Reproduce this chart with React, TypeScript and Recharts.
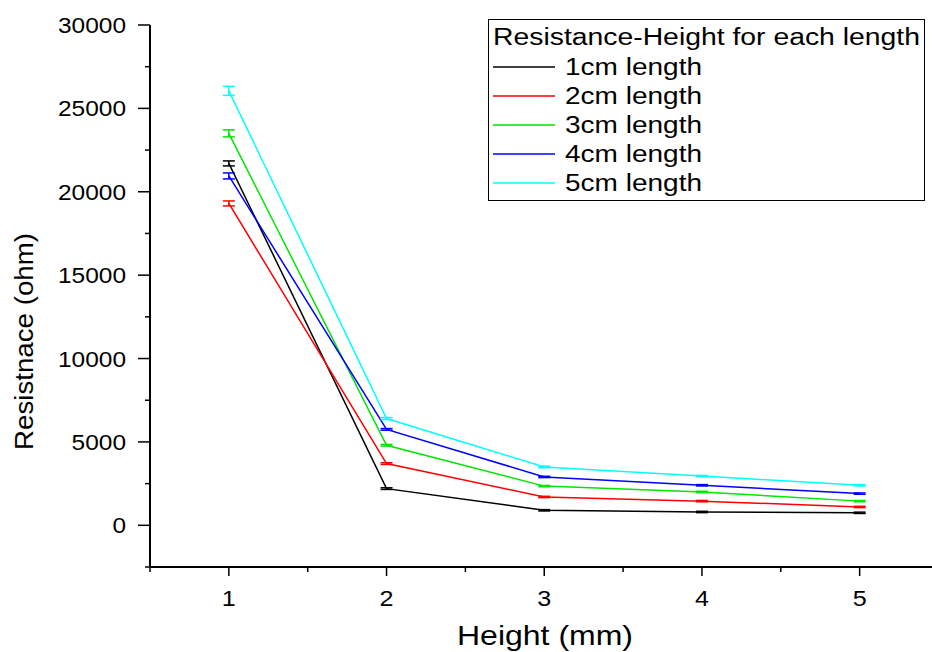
import React from 'react';
import { LineChart, Line, XAxis, YAxis, ErrorBar, Legend, Label } from 'recharts';

// Height (mm) on the x axis
const heights = [1, 2, 3, 4, 5];

// resistance (ohm) per length
const len1 = [21700, 2200, 900, 800, 750];
const len2 = [19300, 3700, 1700, 1450, 1100];
const len3 = [23500, 4800, 2350, 2000, 1450];
const len4 = [20950, 5750, 2900, 2400, 1900];
const len5 = [26050, 6400, 3500, 2950, 2400];

// error bar half sizes
const err1 = [150, 50, 40, 40, 40];
const err2 = [150, 50, 40, 40, 40];
const err3 = [210, 50, 40, 40, 40];
const err4 = [180, 50, 40, 40, 40];
const err5 = [270, 60, 50, 40, 40];

const xTicks = [0.5, 1, 1.5, 2, 2.5, 3, 3.5, 4, 4.5, 5, 5.5];
const yTicks = [-2500, 0, 2500, 5000, 7500, 10000, 12500, 15000, 17500, 20000, 22500, 25000, 27500, 30000];

const series = [
  { key: 'l1', err: 'e1', name: '1cm length', color: '#000000' },
  { key: 'l2', err: 'e2', name: '2cm length', color: '#ff0000' },
  { key: 'l3', err: 'e3', name: '3cm length', color: '#00e600' },
  { key: 'l4', err: 'e4', name: '4cm length', color: '#0000ff' },
  { key: 'l5', err: 'e5', name: '5cm length', color: '#00ffff' },
];

const data = heights.map((h, i) => ({
  h,
  l1: len1[i], l2: len2[i], l3: len3[i], l4: len4[i], l5: len5[i],
  e1: err1[i], e2: err2[i], e3: err3[i], e4: err4[i], e5: err5[i],
}));

const FONT = '"Liberation Sans", Arial, sans-serif';

const XTick = (props: any) => {
  const { x, y, payload } = props;
  const major = Number.isInteger(payload.value);
  return (
    <g>
      <line x1={x} x2={x} y1={y} y2={y + (major ? 9 : 5)} stroke="#000" strokeWidth={1.5} />
      {major && (
        <text x={x} y={y + 39} textAnchor="middle" fontSize={22} fontFamily={FONT} fill="#000"
          textLength={14} lengthAdjust="spacingAndGlyphs">
          {payload.value}
        </text>
      )}
    </g>
  );
};

const YTick = (props: any) => {
  const { x, y, payload } = props;
  const v = payload.value;
  const major = v % 5000 === 0;
  const label = String(v);
  return (
    <g>
      <line x1={x - (major ? 12 : 5)} x2={x} y1={y} y2={y} stroke="#000" strokeWidth={1.5} />
      {major && v >= 0 && (
        <text x={x - 24} y={y + 8} textAnchor="end" fontSize={22} fontFamily={FONT} fill="#000"
          textLength={label.length * 13.6} lengthAdjust="spacingAndGlyphs">
          {label}
        </text>
      )}
    </g>
  );
};

const LegendBox = (props: any) => {
  const items = props.payload || [];
  return (
    <svg width={437} height={182} style={{ display: 'block' }}>
      <rect x={0.5} y={0.5} width={436} height={181} fill="#fff" stroke="#000" strokeWidth={1} />
      <text x={5} y={26} fontSize={23} fontFamily={FONT} fill="#000" textLength={427} lengthAdjust="spacingAndGlyphs">
        Resistance-Height for each length
      </text>
      {items.map((it: any, i: number) => {
        const cy = 48 + i * 29;
        return (
          <g key={it.value}>
            <line x1={5} x2={67} y1={cy} y2={cy} stroke={it.color} strokeWidth={1.5} />
            <text x={77} y={cy + 8} fontSize={23} fontFamily={FONT} fill="#000" textLength={137} lengthAdjust="spacingAndGlyphs">
              {it.value}
            </text>
          </g>
        );
      })}
    </svg>
  );
};

export default function App() {
  return (
    <div style={{ position: 'fixed', left: 0, top: 0, width: 932, height: 652, overflow: 'hidden', background: '#fff' }}>
      <LineChart width={960} height={652} data={data} margin={{ top: 25, left: 90, right: 21.5, bottom: 55 }}>
        <XAxis
          dataKey="h"
          type="number"
          domain={[0.5, 5.5]}
          ticks={xTicks}
          interval={0}
          height={30}
          tickSize={0}
          tickMargin={0}
          tickLine={false}
          tick={<XTick />}
          axisLine={{ stroke: '#000', strokeWidth: 2 }}
        >
          <Label
            content={() => (
              <text x={457} y={645} fontSize={28} fontFamily={FONT} fill="#000" textLength={176} lengthAdjust="spacingAndGlyphs">
                Height (mm)
              </text>
            )}
          />
        </XAxis>
        <YAxis
          type="number"
          domain={[-2500, 30000]}
          ticks={yTicks}
          interval={0}
          width={60}
          tickSize={0}
          tickMargin={0}
          tickLine={false}
          tick={<YTick />}
          axisLine={{ stroke: '#000', strokeWidth: 2 }}
        >
          <Label
            content={() => (
              <text transform="translate(33,341.5) scale(1.2,1) rotate(-90)" x={0} y={0} textAnchor="middle"
                fontSize={22} fontFamily={FONT} fill="#000" textLength={217} lengthAdjust="spacingAndGlyphs">
                Resistnace (ohm)
              </text>
            )}
          />
        </YAxis>
        <Legend
          layout="vertical"
          align="center"
          verticalAlign="middle"
          wrapperStyle={{ left: 488, top: 19, width: 437, height: 182 }}
          content={<LegendBox />}
        />
        {series.map((s) => (
          <Line
            key={s.key}
            type="linear"
            dataKey={s.key}
            name={s.name}
            stroke={s.color}
            strokeWidth={1.5}
            dot={false}
            activeDot={false}
            isAnimationActive={false}
          >
            <ErrorBar dataKey={s.err} direction="y" width={6} stroke={s.color} strokeWidth={1.5} />
          </Line>
        ))}
      </LineChart>
    </div>
  );
}
